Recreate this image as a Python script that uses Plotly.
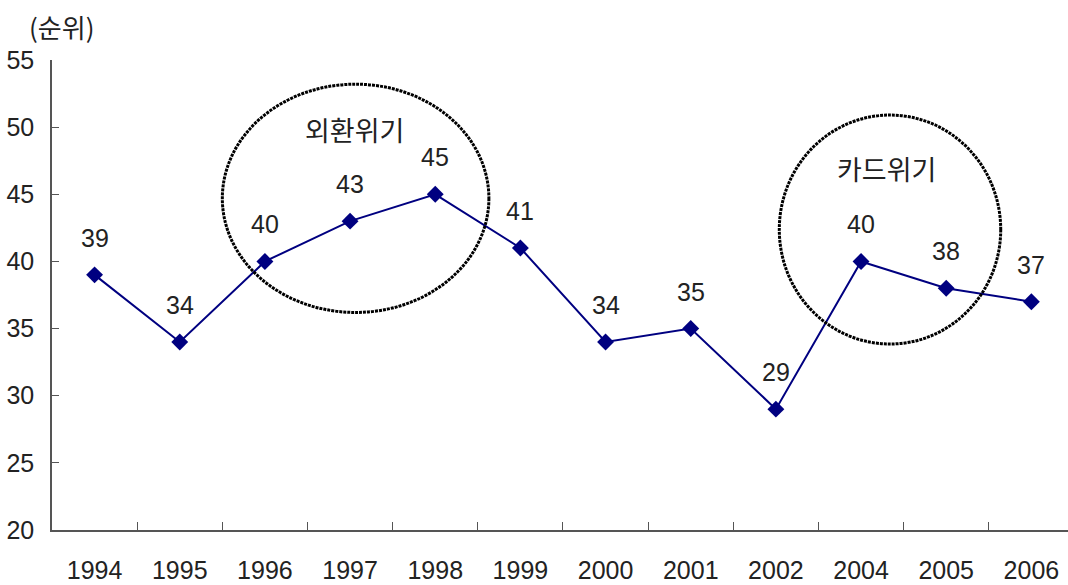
import plotly.graph_objects as go

# 순위 추이 (연도별)
years = ["1994", "1995", "1996", "1997", "1998", "1999", "2000",
         "2001", "2002", "2004", "2005", "2006"]
ranks = [39, 34, 40, 43, 45, 41, 34, 35, 29, 40, 38, 37]

y_ticks = [20, 25, 30, 35, 40, 45, 50, 55]

# 위기 구간 표시 (타원: 카테고리 인덱스 / 순위 좌표)
crisis_labels = ["외환위기", "카드위기"]
crisis_boxes = [(1.50, 4.63, 36.2, 53.2), (8.04, 10.64, 33.85, 50.9)]
crisis_label_pos = [(3.05, 49.8), (9.3, 46.9)]

NAVY = "#000080"
NUM_FONT = "Liberation Sans Narrow, Arial Narrow, Liberation Sans, Arial, sans-serif"
KR_FONT = "Noto Sans CJK KR, sans-serif"

fig = go.Figure()
fig.add_trace(go.Scatter(
    x=years, y=ranks, mode="lines+markers",
    line=dict(color=NAVY, width=2),
    marker=dict(symbol="diamond", size=13, color=NAVY),
    hoverinfo="skip", showlegend=False,
))

# 데이터 레이블 (카테고리 인덱스 기준 위치)
for i, v in enumerate(ranks):
    fig.add_annotation(x=i, y=v, xref="x", yref="y", text=str(v), showarrow=False,
                       yshift=37, font=dict(family=NUM_FONT, size=25, color="#222"))

for (x0, x1, y0, y1) in crisis_boxes:
    fig.add_shape(type="circle", xref="x", yref="y",
                  x0=x0, x1=x1, y0=y0, y1=y1,
                  line=dict(color="black", width=3, dash="3px,1px"))

for txt, (cx, cy) in zip(crisis_labels, crisis_label_pos):
    fig.add_annotation(x=cx, y=cy, text=txt, showarrow=False,
                       font=dict(family=KR_FONT, size=27, color="#222"))

fig.add_annotation(xref="paper", yref="paper", x=-0.025, y=1.0, yshift=34,
                   xanchor="left", yanchor="middle", text="(순위)", showarrow=False,
                   font=dict(family=KR_FONT, size=26, color="#222"))

fig.update_layout(
    width=1068, height=585,
    margin=dict(l=52, r=0, t=60, b=55),
    paper_bgcolor="white", plot_bgcolor="white",
)
fig.update_xaxes(
    type="category", range=[-0.5, 11.43], tickson="boundaries", automargin=False,
    ticks="inside", ticklen=8, tickcolor="#555",
    showline=True, linecolor="#555", linewidth=1.5, showgrid=False,
    ticklabelstandoff=17,
    tickfont=dict(family=NUM_FONT, size=25, color="#222"),
)
fig.update_yaxes(
    range=[20, 55], tickvals=y_ticks, ticks="inside", ticklen=7, tickcolor="#555",
    showline=True, linecolor="#555", linewidth=1.5, showgrid=False, zeroline=False,
    ticklabelstandoff=11, automargin=False,
    tickfont=dict(family=NUM_FONT, size=25, color="#222"),
)

fig.write_html("out.html")
